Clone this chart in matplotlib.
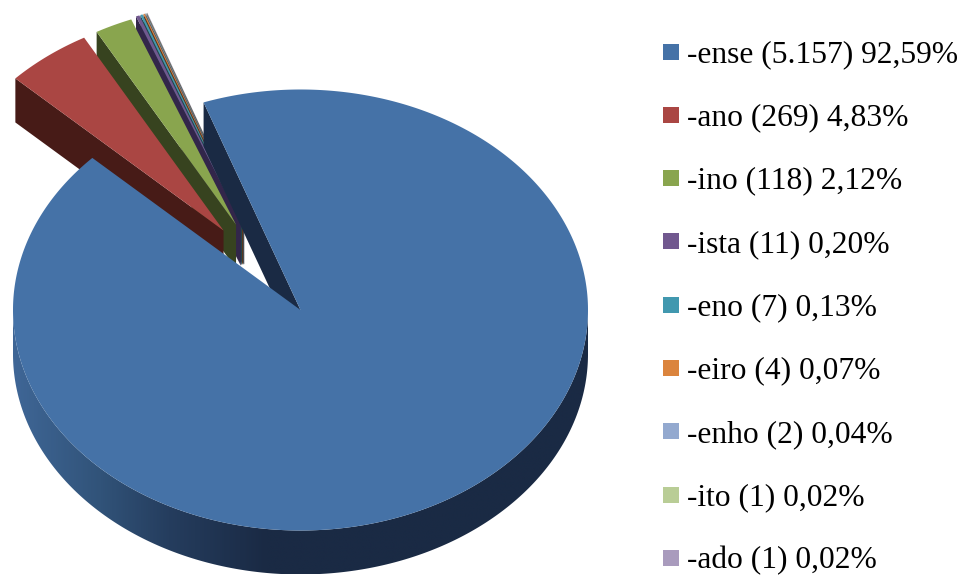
import numpy as np
import matplotlib
matplotlib.use("Agg")
import matplotlib.pyplot as plt
from matplotlib.patches import Polygon, Patch, Rectangle
from matplotlib.legend_handler import HandlerPatch
from matplotlib.colors import LinearSegmentedColormap

plt.rcParams['font.family'] = ['Liberation Serif', 'DejaVu Serif']

# ---- data ----
suffixes = ['-ense', '-ano', '-ino', '-ista', '-eno', '-eiro', '-enho', '-ito', '-ado']
counts = [5157, 269, 118, 11, 7, 4, 2, 1, 1]
count_labels = ['5.157', '269', '118', '11', '7', '4', '2', '1', '1']
percent_labels = ['92,59%', '4,83%', '2,12%', '0,20%', '0,13%', '0,07%', '0,04%', '0,02%', '0,02%']

# ---- style ----
top_colors = ['#4572A7', '#AA4643', '#89A54E', '#71588F', '#4198AF',
              '#DB843D', '#93A9CF', '#B9CD96', '#A99BBD']
wall_colors = ['#1A2A44', '#471B17', '#37431F', '#32264A', '#1B4752',
               '#5E3516', '#3E4860', '#4E5740', '#483F52']
START = 340.3          # degrees clockwise from the top of the pie
CX, CY, RX, RY, DEPTH = 300.5, 310.0, 287.5, 220.5, 44.0
# explosion of each slice: size and direction (degrees clockwise from the top)
explode_size = [0.0, 0.449, 0.447, 0.451, 0.451, 0.451, 0.451, 0.451, 0.451]
explode_dir = [0.0, 323.4, 329.9, 332.6, 333.1, 333.6, 333.9, 334.1, 334.3]


def pt(angle, r=1.0, ox=0.0, oy=0.0):
    a = np.radians(angle)
    return (ox + CX + r * RX * np.sin(a), oy + CY - r * RY * np.cos(a))


fig = plt.figure(figsize=(9.62, 5.75), dpi=100)
ax = fig.add_axes([0, 0, 1, 1])
ax.set_xlim(0, 962)
ax.set_ylim(575, 0)
ax.axis('off')

sweeps = 360.0 * np.array(counts) / np.sum(counts)
starts = START + np.concatenate(([0.0], np.cumsum(sweeps)[:-1]))


def arc(a0, a1, ox=0.0, oy=0.0, n=200):
    return np.array([pt(a, 1.0, ox, oy) for a in np.linspace(a0, a1, n)])


# exploded slices, back to front (small slices first, '-ano' last)
for i in range(len(counts) - 1, 0, -1):
    a0, sw = starts[i], sweeps[i]
    px, py = pt(explode_dir[i], explode_size[i])
    ox, oy = px - CX, py - CY
    apex = np.array([CX + ox, CY + oy])
    outer = arc(a0, a0 + sw, ox, oy, 40)
    wall = [tuple(outer[0]), tuple(outer[0] + [0, DEPTH]),
            tuple(apex + [0, DEPTH]), tuple(apex)]
    ax.add_patch(Polygon(wall, closed=True, fc=wall_colors[i], ec='none', zorder=2 + (9 - i) * 2))
    ax.add_patch(Polygon(np.vstack([apex, outer]), closed=True, fc=top_colors[i],
                         ec='none', zorder=3 + (9 - i) * 2))

# main slice
a0, a1 = starts[0], starts[0] + sweeps[0]
Z = 30
# front wall with horizontal shading, clipped to the rim of the pie
cmap = LinearSegmentedColormap.from_list('wall', [(0.0, '#3F6696'), (0.15, '#315379'),
                                                  (0.27, '#253D5E'), (0.44, '#1A2A44'),
                                                  (1.0, '#1A2A44')])
rim_top = arc(90, 270, n=400)
rim_bottom = rim_top[::-1] + [0, DEPTH]
rim = Polygon(np.vstack([rim_top, rim_bottom]), closed=True, fc='none', ec='none',
              transform=ax.transData)
ax.add_patch(rim)
shade = np.linspace(0, 1, 600).reshape(1, -1)
img = ax.imshow(shade, cmap=cmap, vmin=0, vmax=1, aspect='auto', zorder=Z,
                extent=(CX - RX, CX + RX, CY + RY + DEPTH, CY), interpolation='bilinear')
img.set_clip_path(rim)
ax.set_xlim(0, 962)
ax.set_ylim(575, 0)
# inner wall visible in the gap
outer0 = np.array(pt(a0))
centre = np.array([CX, CY])
ax.add_patch(Polygon([outer0, outer0 + [0, DEPTH], centre + [0, DEPTH], centre],
                     closed=True, fc=wall_colors[0], ec='none', zorder=Z + 1))
# top face
ax.add_patch(Polygon(np.vstack([centre, arc(a0, a1, n=800)]), closed=True,
                     fc=top_colors[0], ec='none', zorder=Z + 2))


# legend
def swatch(legend, orig_handle, xdescent, ydescent, width, height, fontsize):
    px_to_pt = 72 / 100
    return Rectangle((0, 2.5 * px_to_pt), 16 * px_to_pt, 16 * px_to_pt)


labels = [f'{s} ({c}) {p}' for s, c, p in zip(suffixes, count_labels, percent_labels)]
handles = [Patch(fc=c, ec='none') for c in top_colors]
fs_px = 31.5
leg = ax.legend(handles, labels, loc='upper left', bbox_to_anchor=(663 / 962, 1 - 40 / 575),
                frameon=False, fontsize=fs_px * 0.72, borderpad=0, borderaxespad=0,
                handlelength=16 / fs_px, handleheight=0.4046,
                handletextpad=8 / fs_px, labelspacing=1.089,
                handler_map={Patch: HandlerPatch(patch_func=swatch)})
leg.set_zorder(50)

fig.savefig('out.png', dpi=100)
